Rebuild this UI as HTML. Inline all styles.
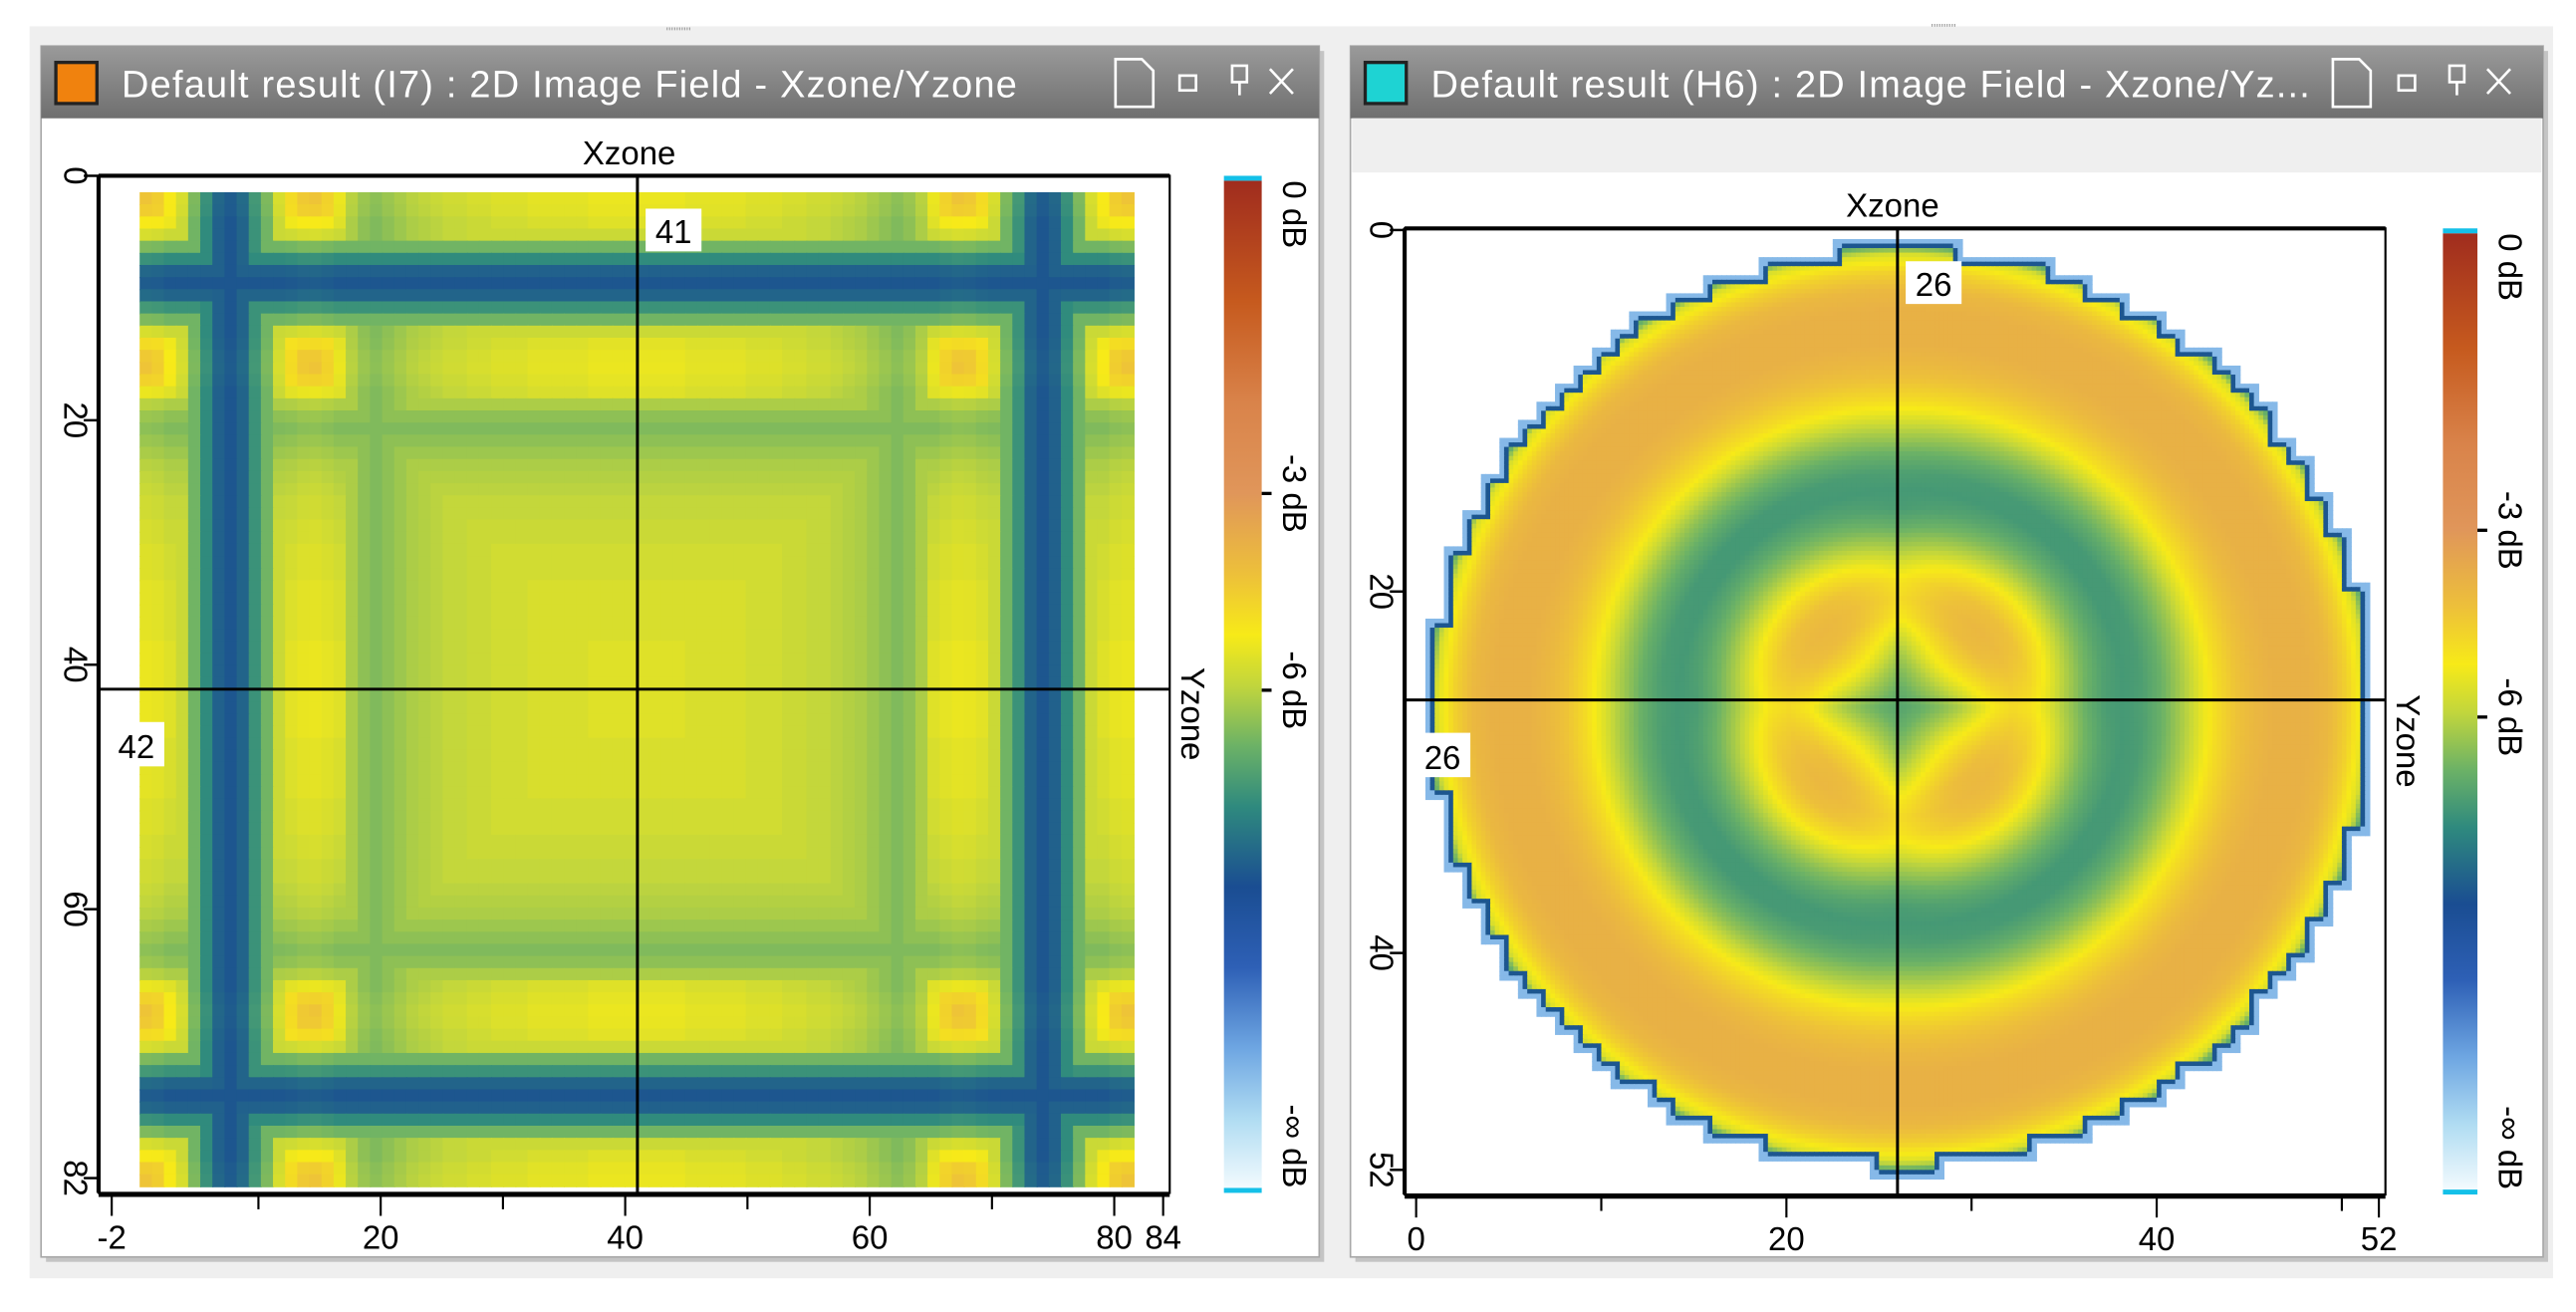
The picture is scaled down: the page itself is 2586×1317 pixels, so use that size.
<!DOCTYPE html>
<html><head><meta charset="utf-8"><style>
html,body{margin:0;padding:0;background:#fff;overflow:hidden}
svg{display:block}
text{font-family:"Liberation Sans",sans-serif}
</style></head><body>
<svg id="root" width="2586" height="1317" viewBox="0 0 1568 798.5" preserveAspectRatio="none">
<defs>
<linearGradient id="tb" x1="0" y1="0" x2="0" y2="1"><stop offset="0" stop-color="#9a9a9a"/><stop offset="1" stop-color="#6f6f6f"/></linearGradient>
<linearGradient id="cb" x1="0" y1="0" x2="0" y2="1"></linearGradient>
<clipPath id="clipL"><rect x="61" y="108" width="650" height="618"/></clipPath>
<clipPath id="clipR"><rect x="856" y="139" width="595" height="587"/></clipPath>
</defs>
<rect x="18" y="16" width="1536" height="762" fill="#efefef"/>
<text x="413" y="22" font-size="8" fill="#999" text-anchor="middle">''''''''''</text>
<text x="1183" y="20" font-size="8" fill="#999" text-anchor="middle">''''''''''</text>

<g>
<rect x="28" y="31" width="778" height="737" fill="#c4c4c4"/>
<rect x="25" y="28" width="778" height="737" fill="#fff" stroke="#a8a8a8"/>
<rect x="25" y="28" width="778" height="44" fill="url(#tb)"/>
<rect x="34" y="38" width="25" height="25" fill="#f0820e" stroke="#222" stroke-width="2"/>
<text x="74" y="59" font-size="23" fill="#fff" textLength="545">Default result (I7) : 2D Image Field - Xzone/Yzone</text>
<g stroke="#fff" fill="none" stroke-width="1.6">
<path d="M679 36h16l7 7v22h-23z"/>
<rect x="718" y="46" width="10" height="9"/>
<path d="M750 40h9v10h-9zM754.5 50v8"/>
<path d="M773 42l14 15M787 42l-14 15"/>
</g>
<text x="383" y="100" font-size="20" text-anchor="middle">Xzone</text>
<g id="heatL" clip-path="url(#clipL)"></g>
<g id="axL"></g>
</g>

<g>
<rect x="825" y="31" width="726" height="737" fill="#c4c4c4"/>
<rect x="822" y="28" width="726" height="737" fill="#fff" stroke="#a8a8a8"/>
<rect x="822" y="28" width="726" height="44" fill="url(#tb)"/>
<rect x="823" y="72" width="724" height="33" fill="#efefef"/>
<rect x="831" y="38" width="25" height="25" fill="#1ed3d3" stroke="#222" stroke-width="2"/>
<text x="871" y="59" font-size="23" fill="#fff" textLength="535">Default result (H6) : 2D Image Field - Xzone/Yz...</text>
<g stroke="#fff" fill="none" stroke-width="1.6">
<path d="M1420 36h16l7 7v22h-23z"/>
<rect x="1460" y="46" width="10" height="9"/>
<path d="M1491 40h9v10h-9zM1495.5 50v8"/>
<path d="M1514 42l14 15M1528 42l-14 15"/>
</g>
<text x="1152" y="132" font-size="20" text-anchor="middle">Xzone</text>
<g id="heatR" clip-path="url(#clipR)"></g>
<g id="axR"></g>
</g>
</svg>
<script>
// ---- data (dB) ----
// left: half profile across the grid, cell 0 (edge) .. 40 (centre)
const squareProfile = [-4.5,-4.7,-5.3,-5.8,-7,-8.2,-9.3,-9.6,-9.2,-8,-7,-5.8,-5,-4.6,-4.5,-4.8,-5.5,-6.2,-6.6,-6.8,-6.6,-6.4,-6.2,-6.1,-6,-5.9,-5.9,-5.8,-5.8,-5.7,-5.7,-5.7,-5.6,-5.6,-5.6,-5.6,-5.6,-5.5,-5.5,-5.5,-5.5];
// right: radial profiles r = 0..26 (cells) along axes and along diagonals
const radialAxis = [-7.5,-7.2,-6.8,-6.3,-5.7,-5.1,-4.8,-5,-5.6,-6.4,-7.2,-7.7,-7.8,-7.6,-7.1,-6.3,-5.5,-4.8,-4.3,-4,-3.8,-3.8,-3.8,-4,-4.6,-5.6,-9.5];
const radialDiag = [-7.5,-7,-6.2,-5.3,-4.6,-4.1,-4,-4.2,-4.8,-5.7,-6.6,-7.3,-7.8,-7.8,-7.3,-6.6,-5.7,-4.9,-4.4,-4,-3.8,-3.8,-3.8,-4,-4.6,-5.6,-9.5];
const xTicksL = [-2,20,40,60,80,84], xMinorL = [10,30,50,70];
const yTicksL = [0,20,40,60,82];
const xTicksR = [0,20,40,52], xMinorR = [10,30,50];
const yTicksR = [0,20,40,52];
const cursorL = [41,42], cursorR = [26,26];
const cbLabels = ["0 dB","-3 dB","-6 dB","-\u221e dB"], cbLabelDb = [0,-3,-6,-15];

// ---- colour scale ----
const dbKnots=[[0,0],[-3,0.31],[-6,0.505],[-9,0.66],[-12,0.8],[-15,0.97]];
const cstops=[[0,"#a02c1e"],[0.12,"#c65a1e"],[0.22,"#d9834a"],[0.31,"#e0965a"],[0.39,"#edc03a"],[0.45,"#f7ea18"],[0.5,"#c2d63c"],[0.56,"#6cb266"],[0.62,"#2f8a7e"],[0.7,"#1a4d92"],[0.78,"#2e60b6"],[0.86,"#6ea6e2"],[0.93,"#b0dcf2"],[1,"#f4fbfe"]];
function hex(c){return [1,3,5].map(i=>parseInt(c.substr(i,2),16));}
function frac(db){if(db>=0)return 0;for(let i=1;i<dbKnots.length;i++){const a=dbKnots[i-1],b=dbKnots[i];if(db>=b[0])return a[1]+(db-a[0])/(b[0]-a[0])*(b[1]-a[1]);}return 1;}
function color(db){const f=frac(db);for(let i=1;i<cstops.length;i++){const a=cstops[i-1],b=cstops[i];if(f<=b[0]){const t=(f-a[0])/(b[0]-a[0]),A=hex(a[1]),B=hex(b[1]);return "rgb("+A.map((v,k)=>Math.round(v+(B[k]-v)*t)).join(",")+")";}}return cstops[cstops.length-1][1];}
const NS="http://www.w3.org/2000/svg";
function mk(tag,attrs,parent,txt){const e=document.createElementNS(NS,tag);for(const k in attrs)e.setAttribute(k,attrs[k]);if(txt!==undefined)e.textContent=txt;parent.appendChild(e);return e;}
const grad=document.getElementById("cb");
cstops.forEach(s=>mk("stop",{offset:s[0],"stop-color":s[1]},grad));

// ---- axes builder ----
function axes(g,o){
  const sx=v=>o.x0+(v-o.xmin)/(o.xmax-o.xmin)*(o.x1-o.x0);
  const sy=v=>o.y0+(v-o.ymin)/(o.ymax-o.ymin)*(o.y1-o.y0);
  const f=mk("rect",{x:o.fx0,y:o.fy0,width:o.fx1-o.fx0,height:o.fy1-o.fy0,fill:"none",stroke:"#000","stroke-width":1.3},g);
  
  
  const xa=mk("line",{x1:o.fx0,x2:o.fx1,y1:o.fy1+1,y2:o.fy1+1,stroke:"#000","stroke-width":3},g);
  
  
  const ta=mk("line",{x1:o.fx0,x2:o.fx1,y1:o.fy0,y2:o.fy0,stroke:"#000","stroke-width":2.5},g);
  
  
  const ya=mk("line",{x1:o.fx0,x2:o.fx0,y1:o.fy0,y2:o.fy1,stroke:"#000","stroke-width":2.5},g);
  
  
  o.xt.forEach(v=>{const x=sx(v);
    const t=mk("line",{x1:x,x2:x,y1:o.fy1,y2:o.fy1+14,stroke:"#000","stroke-width":1.3},g);
    
    
    const l=mk("text",{x:x,y:o.fy1+34,"font-size":20,"text-anchor":"middle"},g,String(v));
    
    });
  o.xm.forEach(v=>{const x=sx(v);
    const t=mk("line",{x1:x,x2:x,y1:o.fy1,y2:o.fy1+10,stroke:"#000","stroke-width":1.3},g);
    
    });
  o.yt.forEach(v=>{const y=sy(v);
    const t=mk("line",{x1:o.fx0-9,x2:o.fx0,y1:y,y2:y,stroke:"#000","stroke-width":1.5},g);
    
    
    const l=mk("text",{x:0,y:0,"font-size":20,"text-anchor":"middle",transform:"translate("+(o.fx0-21)+","+y+") rotate(90)"},g,String(v));
    
    });
  const cx=sx(o.cur[0]),cy=sy(o.cur[1]);
  const vl=mk("line",{x1:cx,x2:cx,y1:o.fy0,y2:o.fy1,stroke:"#000","stroke-width":1.8},g);
  
  
  const hl=mk("line",{x1:o.fx0,x2:o.fx1,y1:cy,y2:cy,stroke:"#000","stroke-width":1.8},g);
  
  
  const b1=mk("rect",{x:cx+5,y:o.fy0+20,width:34,height:26,fill:"#fff"},g);
  
  
  const t1=mk("text",{x:cx+22,y:o.fy0+41,"font-size":20,"text-anchor":"middle"},g,String(o.cur[0]));
  
  
  const b2=mk("rect",{x:o.fx0+6,y:cy+20,width:34,height:27,fill:"#fff"},g);
  
  
  const t2=mk("text",{x:o.fx0+23,y:cy+42,"font-size":20,"text-anchor":"middle"},g,String(o.cur[1]));
  
  
  const yt=mk("text",{x:0,y:0,"font-size":20,"text-anchor":"middle",transform:"translate("+(o.fx1+7)+","+((o.fy0+o.fy1)/2+18)+") rotate(90)"},g,"Yzone");
  
  
  const cb=mk("rect",{x:o.cbx,y:o.fy0+3,width:o.cbw,height:o.fy1-o.fy0-5,fill:"url(#cb)"},g);
  
  
  [o.fy0,o.fy1-3].forEach(y=>{const c=mk("rect",{x:o.cbx,y:y,width:o.cbw,height:3,fill:"#14c0e8"},g);
    
    });
  const cbH=o.fy1-o.fy0-5;
  cbLabels.forEach((s,i)=>{const y=o.fy0+3+frac(cbLabelDb[i])*cbH;
    if(i>0&&i<3){const tk=mk("line",{x1:o.cbx+o.cbw,x2:o.cbx+o.cbw+6,y1:y,y2:y,stroke:"#000","stroke-width":2},g);
      
      }
    const anchor=i===0?"start":(i===3?"end":"middle");
    const yy=i===0?o.fy0+3:(i===3?o.fy1-3:y);
    const l=mk("text",{x:0,y:0,"font-size":20,"text-anchor":anchor,transform:"translate("+(o.cbx+o.cbw+13)+","+yy+") rotate(90)"},g,s);
    
    });
  return {sx,sy};
}

// ---- left heatmap ----
const axL=axes(document.getElementById("axL"),{x0:68,x1:708,xmin:-2,xmax:84,y0:107,y1:717,ymin:0,ymax:82,fx0:60,fx1:712,fy0:107,fy1:726,xt:xTicksL,xm:xMinorL,yt:yTicksL,cur:cursorL,cbx:745,cbw:23});
const hL=document.getElementById("heatL");
const nL=squareProfile.length*2; // 82 cells
const pL=i=>squareProfile[i<squareProfile.length?i:nL-1-i];
const cwL=(690-85)/nL, chL=(722-117)/nL;
for(let j=0;j<nL;j++)for(let i=0;i<nL;i++){
  const a=pL(i),b=pL(j);
  const lo=Math.min(a,b),hi=Math.max(a,b);
  const v=lo+0.25*Math.max(0,hi+5.2);
  const r=mk("rect",{x:(85+i*cwL).toFixed(2),y:(117+j*chL).toFixed(2),width:(cwL+0.6).toFixed(2),height:(chL+0.6).toFixed(2),fill:color(v)},hL);
  
  
}

// ---- right heatmap ----
const axR=axes(document.getElementById("axR"),{x0:862,x1:1448,xmin:0,xmax:52,y0:140,y1:712,ymin:0,ymax:52,fx0:855,fx1:1452,fy0:139,fy1:727,xt:xTicksR,xm:xMinorR,yt:yTicksR,cur:cursorR,cbx:1487,cbw:21});
const hR=document.getElementById("heatR");
const RB=25.1, CX=26.2, CY=26.45, sub=4, nR=54*sub;
const cwR=axR.sx(1)-axR.sx(0), chR=axR.sy(1)-axR.sy(0);
function interp(arr,r){const i=Math.floor(r),t=r-i;if(i>=arr.length-1)return arr[arr.length-1];return arr[i]+(arr[i+1]-arr[i])*t;}
function inside(X,Y){const ci=Math.floor(X)+0.5-CX, cj=Math.floor(Y)+0.5-CY;return Math.hypot(ci,cj)<=RB;}
for(let j=0;j<nR;j++)for(let i=0;i<nR;i++){
  const X=(i+0.5)/sub, Y=(j+0.5)/sub;
  const dx=X-CX, dy=Y-CY, r=Math.hypot(dx,dy);
  if(r>RB+2) continue;
  let v;
  if(inside(X,Y)){
    const rr=Math.min(r*25/RB,25.4);
    const w=Math.abs(Math.sin(2*Math.atan2(dy,dx)));
    v=interp(radialAxis,rr)*(1-w)+interp(radialDiag,rr)*w;
  } else {
    const n1=[[0.3,0],[-0.3,0],[0,0.3],[0,-0.3]].some(d=>inside(X+d[0],Y+d[1]));
    const n2=[[0.55,0],[-0.55,0],[0,0.55],[0,-0.55],[0.4,0.4],[-0.4,0.4],[0.4,-0.4],[-0.4,-0.4]].some(d=>inside(X+d[0],Y+d[1]));
    if(n1) v=-9.6; else if(n2) v=-13.5; else continue;
  }
  const c=mk("rect",{x:(axR.sx(0)+i*cwR/sub).toFixed(2),y:(axR.sy(0)+j*chR/sub).toFixed(2),width:(cwR/sub+0.4).toFixed(2),height:(chR/sub+0.4).toFixed(2),fill:color(v)},hR);
  
  
}
</script>
</body></html>
